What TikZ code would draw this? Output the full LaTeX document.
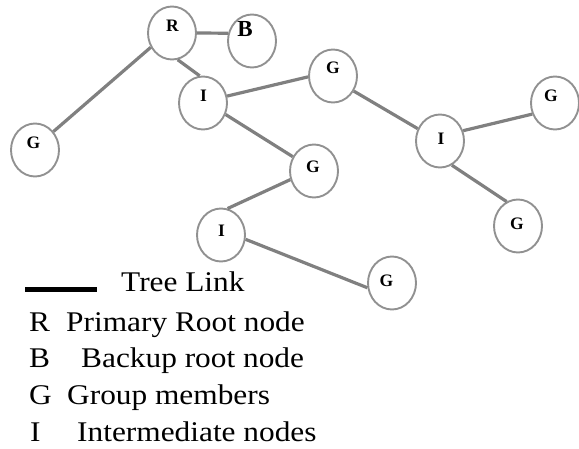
\documentclass[tikz,border=0pt]{standalone}
\usepackage{fontspec}
\setmainfont{Liberation Serif}
\newfontfamily\legendfont[FakeStretch=1.1]{Liberation Serif}
\usetikzlibrary{shapes.geometric}
\definecolor{edgegray}{RGB}{128,128,128}
\definecolor{ringgray}{RGB}{145,145,145}
\tikzset{
  member/.style={ellipse, draw=ringgray, line width=1.9pt, inner sep=0pt,
                 minimum width=48pt, minimum height=53pt},
  lab/.style={inner sep=0pt, font=\fontsize{17.5}{17.5}\selectfont\bfseries},
  biglab/.style={inner sep=0pt, font=\fontsize{23}{23}\selectfont\bfseries},
  link/.style={draw=edgegray, line width=3.2pt},
  legtext/.style={inner sep=0pt, anchor=base west, font=\fontsize{28.5}{34}\legendfont},
  treelink/.style={draw=black, line width=5pt}
}
\begin{document}
\begin{tikzpicture}[x=1pt, y=-1pt]
\useasboundingbox (0,0) rectangle (579,449);
% circles
\node[member] (R)  at (172,33)  {};
\node[member] (B)  at (252,41)  {};
\node[member] (I1) at (203,103) {};
\node[member] (G1) at (35,150)  {};
\node[member] (G2) at (333,76)  {};
\node[member] (I2) at (440,141) {};
\node[member] (G3) at (555,103) {};
\node[member] (G4) at (314,171) {};
\node[member] (G5) at (518,226) {};
\node[member] (I3) at (221,235) {};
\node[member] (G6) at (392,283) {};
% labels
\node[lab]    (Rl)  at (172.5,25.5) {R};
\node[biglab] (Bl)  at (245,29)     {B};
\node[lab]    (I1l) at (203.5,96)   {I};
\node[lab]    (G1l) at (33.5,142.5) {G};
\node[lab]    (G2l) at (333,67.5)   {G};
\node[lab]    (I2l) at (441,138.5)  {I};
\node[lab]    (G3l) at (551,96)     {G};
\node[lab]    (G4l) at (313,166.5)  {G};
\node[lab]    (G5l) at (517,224)    {G};
\node[lab]    (I3l) at (221.5,231)  {I};
\node[lab]    (G6l) at (386.5,281)  {G};
% links
\draw[link] (R.0)    -- (B.162);
\draw[link] (R.-146) -- (G1.45);
\draw[link] (R.-78)  -- (I1.97);
\draw[link] (I1.16)  -- (G2.182);
\draw[link] (I1.-27) -- (G4.146);
\draw[link] (G2.-36) -- (I2.151);
\draw[link] (I2.24)  -- (G3.206);
\draw[link] (I2.-64) -- (G5.115);
\draw[link] (G4.200) -- (I3.76);
\draw[link] (I3.-10) -- (G6.191);
% legend
\coordinate (L1) at (25,290);
\coordinate (L2) at (97,290);
\draw[treelink] (L1) -- (L2);
\node[legtext] (lt) at (121,292) {Tree Link};
\node[legtext] (kR) at (29,332) {R};
\node[legtext] (dR) at (66,332) {Primary Root node};
\node[legtext] (kB) at (29,368) {B};
\node[legtext] (dB) at (81,368) {Backup root node};
\node[legtext] (kG) at (29,405) {G};
\node[legtext] (dG) at (67,405) {Group members};
\node[legtext] (kI) at (30,442) {I};
\node[legtext] (dI) at (77,442) {Intermediate nodes};
\end{tikzpicture}
\end{document}
